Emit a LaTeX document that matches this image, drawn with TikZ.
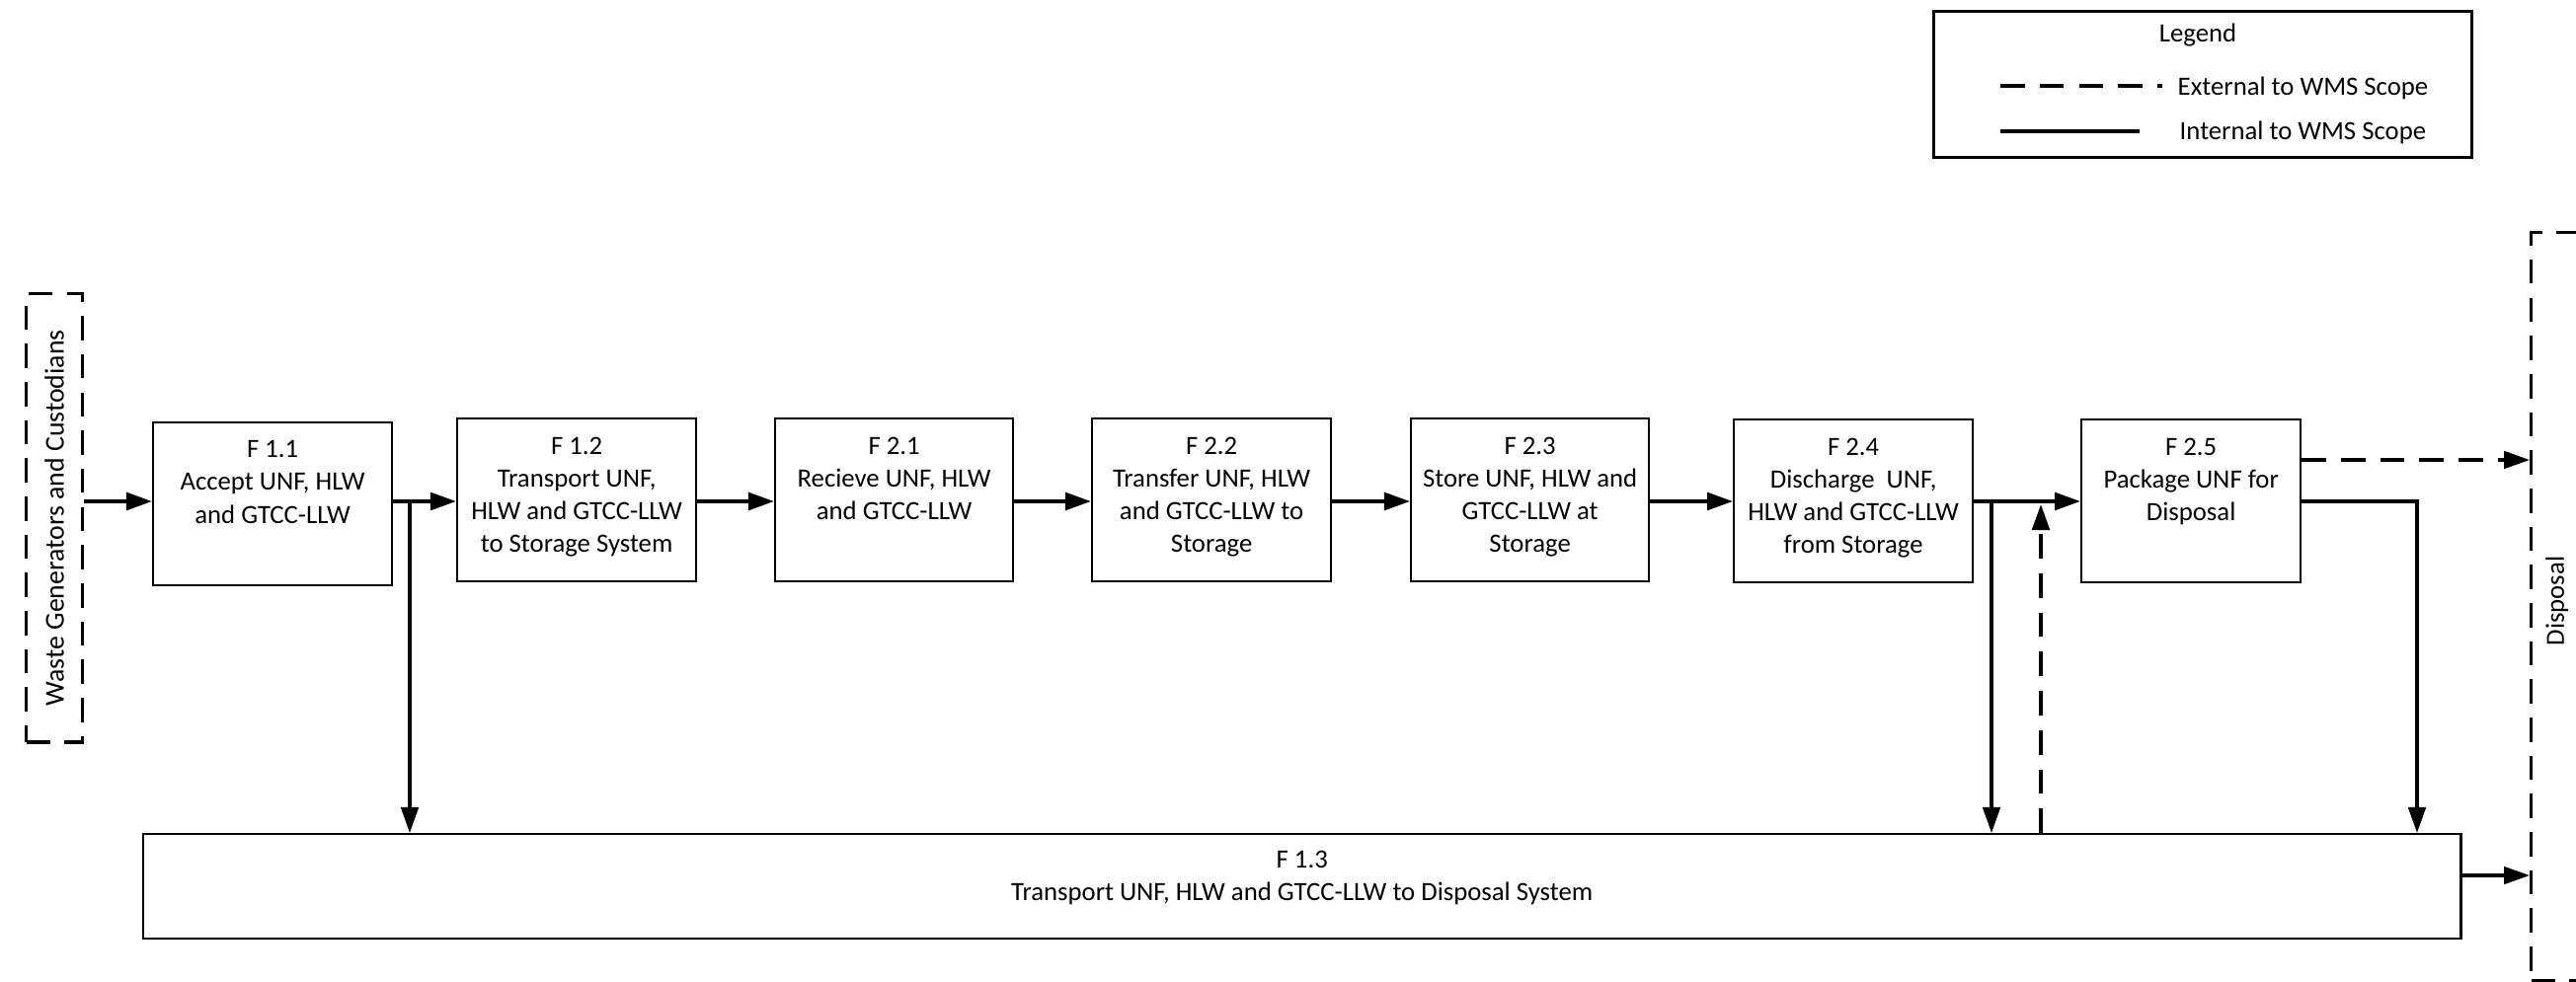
\documentclass[tikz,border=0pt]{standalone}
\usepackage{fontspec}
\setmainfont{Carlito}
\usetikzlibrary{arrows.meta}
\begin{document}
\begin{tikzpicture}[x=0.01cm, y=-0.01cm,
  font=\fontsize{7.6}{9.4}\selectfont,
  fbox/.style={draw, line width=0.6pt, inner sep=0pt, anchor=north west},
  ftext/.style={anchor=north, inner sep=0pt, align=center},
  extbox/.style={draw, line width=0.95pt, dash pattern=on 7pt off 4pt, inner sep=0pt, anchor=north west},
  extline/.style={line width=0.95pt, dash pattern=on 7pt off 4.3pt},
  tip/.style={-{Triangle[length=7.4pt,width=5pt]}},
  mainarr/.style={tip, line width=1.1pt},
  subarr/.style={tip, line width=0.9pt},
  extarr/.style={tip, extline}]
\useasboundingbox (0,0) rectangle (2609,995);
\clip (0,0) rectangle (2609,995);

% legend
\node[fbox, line width=0.8pt, minimum width=5.45cm, minimum height=1.48cm] (legend) at (1957,10) {};
\node[anchor=base, inner sep=0pt] (legtitle) at (2226,43) {Legend};
\coordinate (lext1) at (2026,87);
\coordinate (lext2) at (2190,87);
\coordinate (lint1) at (2026,133);
\coordinate (lint2) at (2167,133);
\draw[extline] (lext1) -- (lext2);
\draw[line width=0.95pt] (lint1) -- (lint2);
\node[anchor=base west, inner sep=0pt] (legext) at (2205,97) {External to WMS Scope};
\node[anchor=base west, inner sep=0pt] (legint) at (2207,142) {Internal to WMS Scope};

% external parties
\node[extbox, minimum width=0.57cm, minimum height=4.54cm] (waste) at (25,296) {};
\node[rotate=90, inner sep=0pt, font=\fontsize{7.9}{9.6}\selectfont] (wastetext) at (waste.center) {Waste Generators and Custodians};
\node[extbox, minimum width=0.52cm, minimum height=7.58cm] (disp) at (2562,234) {};
\node[rotate=90, inner sep=0pt] (disptext) at ([yshift=0.06cm]disp.center) {Disposal};

% function boxes
\node[fbox, minimum width=2.42cm, minimum height=1.65cm] (b11) at (154,427) {};
\node[ftext] (t11) at ([yshift=-0.19cm]b11.north) {F 1.1\\Accept UNF, HLW\\and GTCC-LLW};
\node[fbox, minimum width=2.42cm, minimum height=1.65cm] (b12) at (462,423) {};
\node[ftext] (t12) at ([yshift=-0.19cm]b12.north) {F 1.2\\Transport UNF,\\HLW and GTCC-LLW\\to Storage System};
\node[fbox, minimum width=2.41cm, minimum height=1.65cm] (b21) at (784,423) {};
\node[ftext] (t21) at ([yshift=-0.19cm]b21.north) {F 2.1\\Recieve UNF, HLW\\and GTCC-LLW};
\node[fbox, minimum width=2.42cm, minimum height=1.65cm] (b22) at (1105,423) {};
\node[ftext] (t22) at ([yshift=-0.19cm]b22.north) {F 2.2\\Transfer UNF, HLW\\and GTCC-LLW to\\Storage};
\node[fbox, minimum width=2.41cm, minimum height=1.65cm] (b23) at (1428,423) {};
\node[ftext] (t23) at ([yshift=-0.19cm]b23.north) {F 2.3\\Store UNF, HLW and\\GTCC-LLW at\\Storage};
\node[fbox, minimum width=2.42cm, minimum height=1.65cm] (b24) at (1755,424) {};
\node[ftext] (t24) at ([yshift=-0.19cm]b24.north) {F 2.4\\Discharge\ \ UNF,\\HLW and GTCC-LLW\\from Storage};
\node[fbox, minimum width=2.22cm, minimum height=1.65cm] (b25) at (2107,424) {};
\node[ftext] (t25) at ([yshift=-0.19cm]b25.north) {F 2.5\\Package UNF for\\Disposal};
\node[fbox, minimum width=23.46cm, minimum height=1.06cm] (b13) at (144,844) {};
\node[ftext] (t13) at ([yshift=-0.17cm]b13.north) {F 1.3\\Transport UNF, HLW and GTCC-LLW to Disposal System};

% flow rows
\coordinate (row) at (0,508);
\coordinate (rowext) at (0,466);
\coordinate (rowlow) at (0,887);
\coordinate (j1) at (415,508);
\coordinate (j2) at (2017,508);
\coordinate (j3) at (2067,511);
\coordinate (j4) at (2448,508);

\draw[mainarr] (waste.east |- row) -- (b11.west |- row);
\draw[mainarr] (b11.east |- row) -- (b12.west |- row);
\draw[mainarr] (b12.east |- row) -- (b21.west |- row);
\draw[mainarr] (b21.east |- row) -- (b22.west |- row);
\draw[mainarr] (b22.east |- row) -- (b23.west |- row);
\draw[mainarr] (b23.east |- row) -- (b24.west |- row);
\draw[mainarr] (b24.east |- row) -- (b25.west |- row);

\draw[subarr] (j1) -- (j1 |- b13.north);
\draw[subarr] (j2) -- (j2 |- b13.north);
\draw[extarr] (j3 |- b13.north) -- (j3);
\draw[extarr] (b25.east |- rowext) -- (disp.west |- rowext);
\draw[subarr] (b25.east |- row) -- (j4) -- (j4 |- b13.north);
\draw[subarr] (b13.east |- rowlow) -- (disp.west |- rowlow);
\end{tikzpicture}
\end{document}
